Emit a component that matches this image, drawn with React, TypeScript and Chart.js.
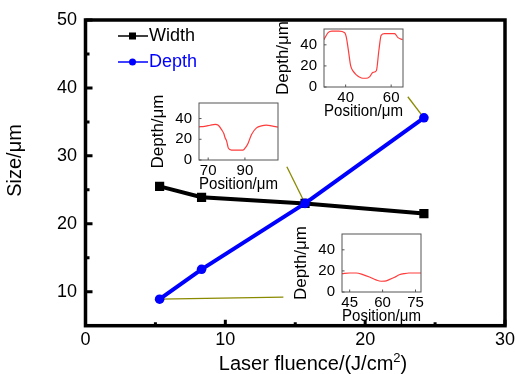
import { useEffect, useRef } from "react";
import { Chart, registerables } from "chart.js";
Chart.register(...registerables);

const FONT = "Arial, 'Liberation Sans', sans-serif";

// ---- main chart data ----
const fluence = [5.3, 8.3, 15.7, 24.2];
const widthVals = [25.5, 23.9, 23.0, 21.5];
const depthVals = [8.9, 13.3, 23.0, 35.6];
const xTickVals = [0, 10, 20, 30];
const xMinorVals = [5, 15, 25];
const yTickVals = [10, 20, 30, 40, 50];
const yMinorVals = [15, 25, 35, 45];
// leader lines (data units): from a depth point to the inset it refers to
const leaderFrom = [
  [5.3, 8.9],
  [15.7, 23.0],
  [24.2, 35.6],
];
const leaderTo = [
  [14.15, 9.2],
  [14.4, 28.4],
  [23.05, 38.7],
];

// ---- inset profiles ----
const inset1Pos = [65, 68, 71, 73.8, 75.5, 77.4, 78.5, 79.2, 80, 81, 82.8, 86, 89, 90.5, 91.8, 93.6, 96.3, 99, 101.7, 104.5, 107.3, 108];
const inset1Depth = [32, 32.5, 33.5, 34.4, 33.5, 29, 25.5, 21.5, 18.5, 11.3, 9.6, 9.5, 9.6, 12.4, 16.5, 24.7, 31, 33, 33.7, 33, 32, 31.7];
const inset1Ticks = [70, 90];

const inset2Pos = [30.5, 32.3, 34, 37, 39.6, 40.3, 41.2, 42.2, 43.3, 44.7, 46, 47.6, 49, 50.5, 52, 53.5, 54.6, 55.6, 57.1, 59, 61.5, 63, 65];
const inset2Depth = [44.9, 51.6, 52.9, 52.9, 51.5, 47.4, 35, 20.2, 15, 11.5, 9.5, 8.3, 8.3, 9.6, 13.8, 15.4, 34.6, 49, 50.6, 50.6, 50.6, 46.8, 44.9];
const inset2Ticks = [40, 60];

const inset3Pos = [41.5, 45, 48, 51, 54, 57, 59.3, 61, 63, 65.5, 67.6, 70, 72, 75, 77.5];
const inset3Depth = [17.5, 18, 18, 16.5, 14.2, 11.5, 10.2, 10.3, 11.7, 14, 16.3, 17.5, 18, 18, 18];
const inset3Ticks = [45, 60, 75];

const insetYTicks = [0, 20, 40];

type InsetCfg = {
  left: number; top: number; w: number; h: number;
  xMin: number; xMax: number; ticks: number[]; pos: number[]; depth: number[];
};

const insets: InsetCfg[] = [
  { left: 199, top: 103, w: 79, h: 56.5, xMin: 65, xMax: 108, ticks: inset1Ticks, pos: inset1Pos, depth: inset1Depth },
  { left: 323.7, top: 29, w: 79, h: 57.7, xMin: 30.5, xMax: 65.2, ticks: inset2Ticks, pos: inset2Pos, depth: inset2Depth },
  { left: 341.7, top: 234.3, w: 79, h: 58, xMin: 41.5, xMax: 77.5, ticks: inset3Ticks, pos: inset3Pos, depth: inset3Depth },
];

const YW = 51, XH = 36, PT = 18, PR = 12;

const mainPlugin = {
  id: "mainDecor",
  beforeDatasetsDraw(chart: any) {
    const { ctx, scales } = chart;
    const x = scales.x, y = scales.y;
    ctx.save();
    ctx.strokeStyle = "#8a8a00";
    ctx.lineWidth = 1.3;
    leaderFrom.forEach((p, i) => {
      ctx.beginPath();
      ctx.moveTo(x.getPixelForValue(p[0]), y.getPixelForValue(p[1]));
      ctx.lineTo(x.getPixelForValue(leaderTo[i][0]), y.getPixelForValue(leaderTo[i][1]));
      ctx.stroke();
    });
    ctx.restore();
  },
  afterDraw(chart: any) {
    const { ctx, chartArea: a, scales } = chart;
    const x = scales.x, y = scales.y;
    ctx.save();
    // frame
    ctx.strokeStyle = "#000";
    ctx.lineWidth = 3.5;
    ctx.strokeRect(a.left, a.top, a.right - a.left, a.bottom - a.top);
    // inward ticks
    ctx.lineWidth = 3;
    ctx.beginPath();
    xTickVals.forEach((v) => {
      const px = x.getPixelForValue(v);
      ctx.moveTo(px, a.bottom); ctx.lineTo(px, a.bottom - 6);
    });
    xMinorVals.forEach((v) => {
      const px = x.getPixelForValue(v);
      ctx.moveTo(px, a.bottom); ctx.lineTo(px, a.bottom - 3.5);
    });
    yTickVals.forEach((v) => {
      const py = y.getPixelForValue(v);
      ctx.moveTo(a.left, py); ctx.lineTo(a.left + 7, py);
    });
    yMinorVals.forEach((v) => {
      const py = y.getPixelForValue(v);
      ctx.moveTo(a.left, py); ctx.lineTo(a.left + 4, py);
    });
    ctx.stroke();

    // legend
    const rows = [
      { label: "Width", color: "#000", style: "rect", yy: 36 },
      { label: "Depth", color: "#0000ff", style: "circle", yy: 62 },
    ];
    rows.forEach((r) => {
      ctx.strokeStyle = r.color;
      ctx.fillStyle = r.color;
      ctx.lineWidth = 1.5;
      ctx.beginPath();
      ctx.moveTo(118, r.yy); ctx.lineTo(148, r.yy);
      ctx.stroke();
      if (r.style === "rect") {
        ctx.fillRect(129, r.yy - 3.5, 7, 7);
      } else {
        ctx.beginPath(); ctx.arc(132.5, r.yy, 3.5, 0, Math.PI * 2); ctx.fill();
      }
      ctx.font = `18px ${FONT}`;
      ctx.textAlign = "left";
      ctx.textBaseline = "middle";
      ctx.fillText(r.label, 149, r.yy);
    });

    // axis titles
    ctx.fillStyle = "#000";
    ctx.save();
    ctx.translate(15, 160.5);
    ctx.rotate(-Math.PI / 2);
    ctx.font = `20px ${FONT}`;
    ctx.textAlign = "center";
    ctx.textBaseline = "middle";
    ctx.fillText("Size/\u03bcm", 0, 0);
    ctx.restore();

    const t1 = "Laser fluence/(J/cm";
    const t2 = "2";
    const t3 = ")";
    ctx.font = `20px ${FONT}`;
    const w1 = ctx.measureText(t1).width;
    const w3 = ctx.measureText(t3).width;
    ctx.font = `13px ${FONT}`;
    const w2 = ctx.measureText(t2).width;
    const total = w1 + w2 + w3;
    let sx = 313 - total / 2;
    const base = 370;
    ctx.textAlign = "left";
    ctx.textBaseline = "alphabetic";
    ctx.font = `20px ${FONT}`;
    ctx.fillText(t1, sx, base);
    sx += w1;
    ctx.font = `13px ${FONT}`;
    ctx.fillText(t2, sx, base - 8);
    sx += w2;
    ctx.font = `20px ${FONT}`;
    ctx.fillText(t3, sx, base);
    ctx.restore();
  },
};

const insetPlugin = {
  id: "insetDecor",
  afterDraw(chart: any) {
    const { ctx, chartArea: a, scales } = chart;
    ctx.save();
    ctx.strokeStyle = "#555";
    ctx.lineWidth = 1;
    ctx.strokeRect(a.left, a.top, a.right - a.left, a.bottom - a.top);
    ctx.beginPath();
    insetYTicks.forEach((v) => {
      const py = scales.y.getPixelForValue(v);
      ctx.moveTo(a.left, py); ctx.lineTo(a.left + 2.5, py);
    });
    scales.x.ticks.forEach((t: any) => {
      const px = scales.x.getPixelForValue(t.value);
      ctx.moveTo(px, a.bottom); ctx.lineTo(px, a.bottom - 2.5);
    });
    ctx.stroke();
    ctx.restore();
  },
};

function makeInset(canvas: HTMLCanvasElement, cfg: InsetCfg) {
  return new Chart(canvas, {
    type: "line",
    data: {
      datasets: [
        {
          data: cfg.pos.map((p, i) => ({ x: p, y: cfg.depth[i] })),
          borderColor: "#ff3c3c",
          borderWidth: 1.2,
          pointRadius: 0,
          cubicInterpolationMode: "monotone",
          fill: false,
        },
      ],
    },
    options: {
      animation: false,
      responsive: false,
      events: [],
      layout: { padding: { top: PT, right: PR, left: 0, bottom: 0 } },
      plugins: { legend: { display: false }, tooltip: { enabled: false } },
      scales: {
        x: {
          type: "linear",
          min: cfg.xMin,
          max: cfg.xMax,
          afterBuildTicks: (s: any) => { s.ticks = cfg.ticks.map((v) => ({ value: v })); },
          afterFit: (s: any) => { s.height = XH; },
          grid: { display: false, drawTicks: false },
          border: { display: false },
          ticks: { font: { size: 15, family: FONT }, color: "#000", padding: 2, maxRotation: 0 },
          title: { display: true, text: "Position/\u03bcm", color: "#000", font: { size: 17, family: FONT }, padding: { top: 0, bottom: 1.8 } },
        },
        y: {
          type: "linear",
          min: 0,
          max: 55,
          afterBuildTicks: (s: any) => { s.ticks = insetYTicks.map((v) => ({ value: v })); },
          afterFit: (s: any) => { s.width = YW; },
          grid: { display: false, drawTicks: false },
          border: { display: false },
          ticks: { font: { size: 15, family: FONT }, color: "#000", padding: 7 },
          title: { display: true, text: "Depth/\u03bcm", color: "#000", font: { size: 17, family: FONT }, padding: { top: 0, bottom: 0 } },
        },
      },
    } as any,
    plugins: [insetPlugin],
  });
}

export default function App() {
  const mainRef = useRef<HTMLCanvasElement>(null);
  const insetRefs = useRef<(HTMLCanvasElement | null)[]>([]);

  useEffect(() => {
    const charts: Chart[] = [];
    if (mainRef.current) {
      charts.push(
        new Chart(mainRef.current, {
          type: "line",
          data: {
            datasets: [
              {
                label: "Width",
                data: fluence.map((f, i) => ({ x: f, y: widthVals[i] })),
                borderColor: "#000",
                backgroundColor: "#000",
                borderWidth: 4,
                pointStyle: "rect",
                pointRadius: 6.5,
                pointBorderWidth: 0,
                order: 1,
              },
              {
                label: "Depth",
                data: fluence.map((f, i) => ({ x: f, y: depthVals[i] })),
                borderColor: "#0000ff",
                backgroundColor: "#0000ff",
                borderWidth: 4,
                pointStyle: "circle",
                pointRadius: 4.8,
                pointBorderWidth: 0,
                order: 0,
              },
            ],
          },
          options: {
            animation: false,
            responsive: false,
            events: [],
            layout: { padding: { top: 20, right: 11, left: 0, bottom: 0 } },
            plugins: { legend: { display: false }, tooltip: { enabled: false } },
            scales: {
              x: {
                type: "linear",
                min: 0,
                max: 30,
                afterBuildTicks: (s: any) => { s.ticks = xTickVals.map((v) => ({ value: v })); },
                afterFit: (s: any) => { s.height = 48.3; s.paddingRight = 0; s.paddingLeft = 0; },
                grid: { display: false, drawTicks: false },
                border: { display: false },
                ticks: { font: { size: 18, family: FONT }, color: "#000", padding: 4, maxRotation: 0 },
              },
              y: {
                type: "linear",
                min: 5,
                max: 50,
                afterBuildTicks: (s: any) => { s.ticks = yTickVals.map((v) => ({ value: v })); },
                afterFit: (s: any) => { s.width = 85.5; s.paddingTop = 0; s.paddingBottom = 0; },
                grid: { display: false, drawTicks: false },
                border: { display: false },
                ticks: { font: { size: 18, family: FONT }, color: "#000", padding: 8.5 },
              },
            },
          } as any,
          plugins: [mainPlugin],
        })
      );
    }
    insets.forEach((cfg, i) => {
      const c = insetRefs.current[i];
      if (c) charts.push(makeInset(c, cfg));
    });
    return () => charts.forEach((c) => c.destroy());
  }, []);

  return (
    <div style={{ position: "fixed", left: 0, top: 0, width: 516, height: 374, background: "#fff" }}>
      <canvas ref={mainRef} width={516} height={374} style={{ position: "absolute", left: 0, top: 0 }} />
      {insets.map((cfg, i) => (
        <canvas
          key={i}
          ref={(el) => { insetRefs.current[i] = el; }}
          width={Math.round(YW + cfg.w + PR)}
          height={Math.round(PT + cfg.h + XH)}
          style={{ position: "absolute", left: cfg.left - YW, top: cfg.top - PT }}
        />
      ))}
    </div>
  );
}
